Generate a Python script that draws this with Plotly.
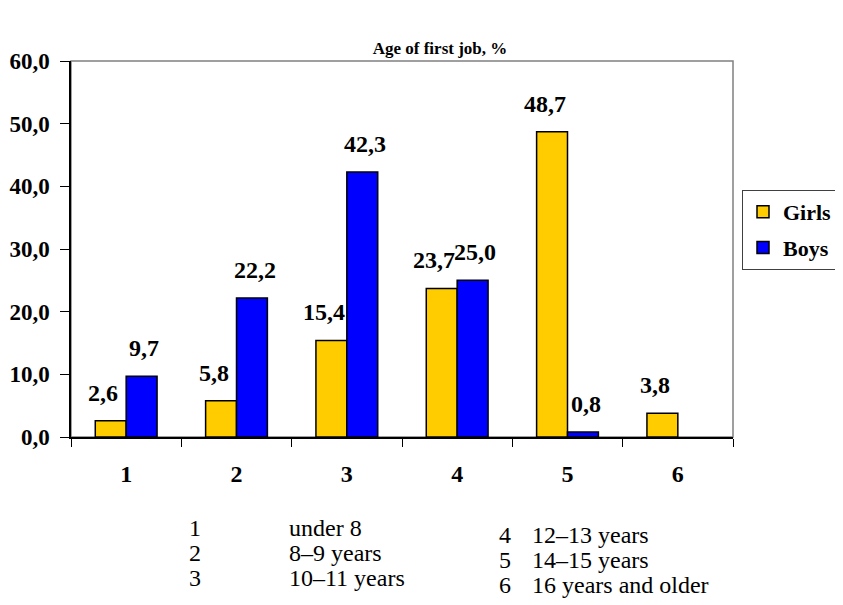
import plotly.graph_objects as go

categories = ["1", "2", "3", "4", "5", "6"]
girls = [2.6, 5.8, 15.4, 23.7, 48.7, 3.8]
boys = [9.7, 22.2, 42.3, 25.0, 0.8, 0.0]
y_ticks = [0, 10, 20, 30, 40, 50, 60]
y_tick_text = ["0,0", "10,0", "20,0", "30,0", "40,0", "50,0", "60,0"]
key_left_nums = ["1", "2", "3"]
key_left_text = ["under 8", "8\u20139 years", "10\u201311 years"]
key_right_nums = ["4", "5", "6"]
key_right_text = ["12\u201313 years", "14\u201315 years", "16 years and older"]

SERIF = "Liberation Serif, Times New Roman, serif"

# page body has an 8px default margin; positions below are in screen px
OFF = 8
PL, PT, PW, PH = 71, 61, 662, 376   # plot area on screen

def outline(vals):
    # no outline for empty (zero-height) bars
    return [1.5 if v > 0 else 0 for v in vals]

fig = go.Figure()
fig.add_trace(go.Bar(name="Girls", x=categories, y=girls, legendgroup="g",
                     marker=dict(color="#FFCC00", line=dict(color="black", width=outline(girls)))))
fig.add_trace(go.Bar(name="Boys", x=categories, y=boys, legendgroup="b",
                     marker=dict(color="#0000FF", line=dict(color="black", width=outline(boys)))))

def fmt(v):
    return f"{v:.1f}".replace(".", ",")

for i, (g, b) in enumerate(zip(girls, boys)):
    fig.add_annotation(x=i, y=g, text=fmt(g), showarrow=False,
                       xshift=-23, yshift=28,
                       font=dict(family=SERIF, size=24, color="black", weight="bold"))
    if b > 0:
        fig.add_annotation(x=i, y=b, text=fmt(b), showarrow=False,
                           xshift=18, yshift=28,
                           font=dict(family=SERIF, size=24, color="black", weight="bold"))

left_rows = [528, 553, 578]
right_rows = [535, 560, 585]
for i in range(3):
    for txt, xpx, ypx, anchor in [(key_left_nums[i], 195, left_rows[i], "center"),
                                  (key_left_text[i], 288, left_rows[i], "left"),
                                  (key_right_nums[i], 505, right_rows[i], "center"),
                                  (key_right_text[i], 531, right_rows[i], "left")]:
        fig.add_annotation(xref="paper", yref="paper", x=(xpx - PL) / PW,
                           y=(PT + PH - ypx) / PH, text=txt, showarrow=False,
                           xanchor=anchor, yanchor="middle", borderpad=0,
                           font=dict(family=SERIF, size=24, color="black"))

# plot-area frame (top/right grey)
fig.add_shape(type="rect", xref="paper", yref="paper", x0=0, x1=1, y0=0, y1=1,
              line=dict(color="#808080", width=1.5), layer="below")

fig.update_layout(
    width=843, height=605,
    margin=dict(l=PL - OFF, r=843 - (PL - OFF) - PW, t=PT - OFF,
                b=605 - (PT - OFF) - PH, autoexpand=False),
    paper_bgcolor="white", plot_bgcolor="white",
    barmode="group", bargap=0.44, bargroupgap=0,
    title=dict(text="Age of first job, %", x=(440 - PL) / PW, xanchor="center",
               xref="paper", y=1 - (48 - OFF) / 605, yanchor="middle",
               font=dict(family=SERIF, size=17, color="black", weight="bold")),
    font=dict(family=SERIF, color="black"),
    showlegend=True,
    legend=dict(x=(742 - PL) / PW, y=(PT + PH - 190) / PH, xanchor="left", yanchor="top",
                bordercolor="#404040", borderwidth=1,
                font=dict(family=SERIF, size=22, color="black", weight="bold"),
                traceorder="grouped", tracegroupgap=4, itemwidth=30),
    xaxis=dict(type="category", showline=True, linecolor="black", linewidth=1.5,
               ticks="outside", tickson="boundaries", ticklen=8, tickcolor="black",
               tickwidth=1, ticklabelstandoff=14,
               tickfont=dict(family=SERIF, size=24, color="black", weight="bold"),
               showgrid=False, zeroline=False),
    yaxis=dict(range=[0, 60], tickvals=y_ticks, ticktext=y_tick_text,
               showline=True, linecolor="black", linewidth=1.5,
               ticks="outside", ticklen=9, tickcolor="black", tickwidth=1,
               ticklabelstandoff=6,
               tickfont=dict(family=SERIF, size=23, color="black", weight="bold"),
               showgrid=False, zeroline=False),
)

fig.write_html("out.html")
